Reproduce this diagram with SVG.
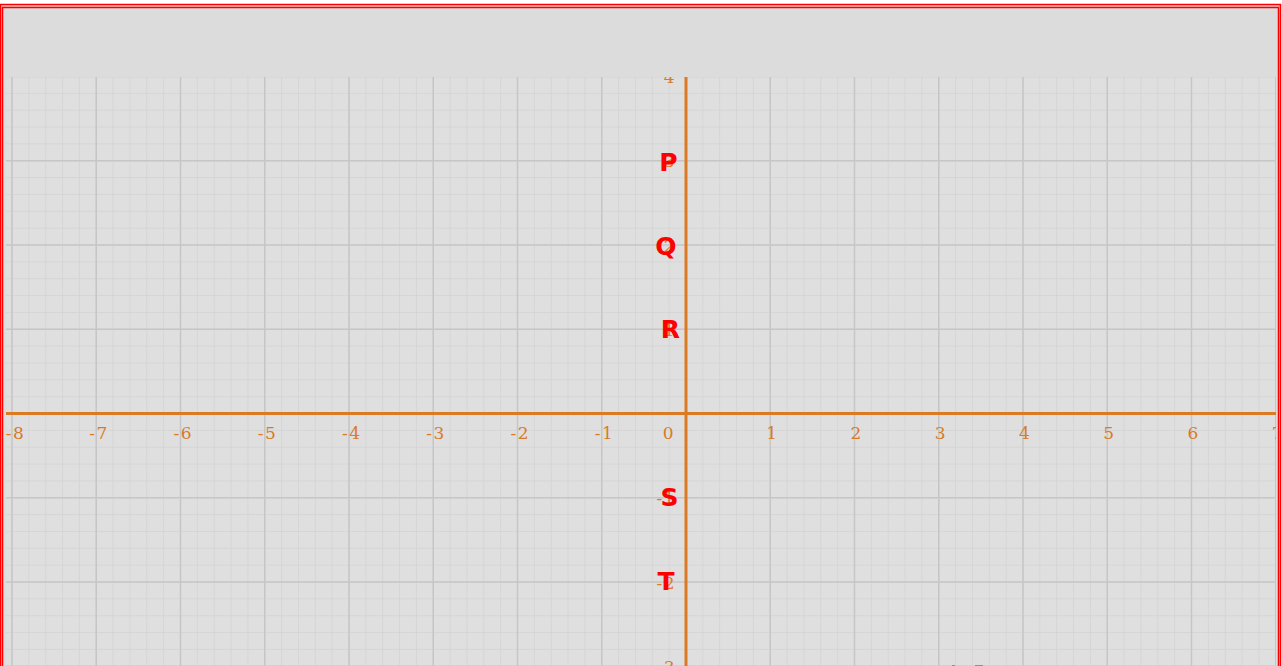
<svg xmlns="http://www.w3.org/2000/svg" width="1282" height="666" viewBox="0 0 1282 666">
  <style>
    .tick { font-family: "DejaVu Serif", serif; font-size: 17px; fill: #d97a26; letter-spacing: 1.5px; }
    .tx { text-anchor: middle; }
    .ty { text-anchor: end; }
    .pt { font-family: "DejaVu Sans", sans-serif; font-size: 25px; font-weight: bold; fill: #ff0000; text-anchor: middle; }
    .major { stroke: #c6c6c6; stroke-width: 1.5; fill: none; }
    .axis { stroke: #dc7a24; stroke-width: 3; fill: none; }
  </style>
  <defs>
    <pattern id="minor" x="677.575" y="405.075" width="16.85" height="16.85" patternUnits="userSpaceOnUse">
      <path d="M8.425 0V16.85M0 8.425H16.85" stroke="#d5d5d5" stroke-width="1" fill="none"/>
    </pattern>
    <clipPath id="gridclip">
      <rect x="6" y="77" width="1270" height="589"/>
    </clipPath>
  </defs>

  <rect x="0" y="0" width="1282" height="666" fill="#ffffff"/>
  <rect x="0.5" y="4.5" width="1280" height="700" fill="#ffc8c8" stroke="#ff0000" stroke-width="1.5"/>
  <rect x="2.5" y="7.5" width="1276" height="700" fill="#dcdcdc" stroke="#ff0000" stroke-width="1.5"/>

  <g id="grid" clip-path="url(#gridclip)">
    <rect x="6" y="77" width="1270" height="589" fill="#dfdfdf"/>
    <rect x="6" y="77" width="1270" height="589" fill="url(#minor)"/>
    <path class="major" d="M12 77V666M96.25 77V666M180.5 77V666M264.75 77V666M349 77V666M433.25 77V666M517.5 77V666M601.75 77V666M770.25 77V666M854.5 77V666M938.75 77V666M1023 77V666M1107.25 77V666M1191.5 77V666M1275.75 77V666"/>
    <path class="major" d="M6 76.5H1276M6 160.75H1276M6 245H1276M6 329.25H1276M6 497.75H1276M6 582H1276M6 666.25H1276"/>

    <g id="axes">
      <path class="axis" d="M6 413.5H1276"/>
      <path class="axis" d="M686 77V666"/>
    </g>

    <g id="x-ticks" class="tick tx">
      <text x="15.5" y="439">-8</text>
      <text x="99" y="439">-7</text>
      <text x="183.25" y="439">-6</text>
      <text x="267.5" y="439">-5</text>
      <text x="351.75" y="439">-4</text>
      <text x="436" y="439">-3</text>
      <text x="520.25" y="439">-2</text>
      <text x="604.5" y="439">-1</text>
      <text x="669" y="439">0</text>
      <text x="772.5" y="439">1</text>
      <text x="856.75" y="439">2</text>
      <text x="941" y="439">3</text>
      <text x="1025.25" y="439">4</text>
      <text x="1109.5" y="439">5</text>
      <text x="1193.75" y="439">6</text>
      <text x="1278" y="439">7</text>
    </g>
    <g id="y-ticks" class="tick ty">
      <text x="676" y="83">4</text>
      <text x="676" y="167.25">3</text>
      <text x="676" y="251.5">2</text>
      <text x="676" y="335.75">1</text>
      <text x="676" y="504.25">-1</text>
      <text x="676" y="588.5">-2</text>
      <text x="676" y="672.75">-3</text>
    </g>

    <g id="clipped-marks" fill="#c8709a">
      <rect x="952" y="665" width="3" height="1"/>
      <rect x="975" y="665" width="8" height="1"/>
    </g>
  </g>

  <g id="nodes">
    <g id="node-P"><text class="pt" x="668.5" y="171">P</text></g>
    <g id="node-Q"><text class="pt" x="666" y="255">Q</text></g>
    <g id="node-R"><text class="pt" x="670.5" y="338">R</text></g>
    <g id="node-S"><text class="pt" x="669.5" y="506">S</text></g>
    <g id="node-T"><text class="pt" x="666" y="590">T</text></g>
  </g>
</svg>
